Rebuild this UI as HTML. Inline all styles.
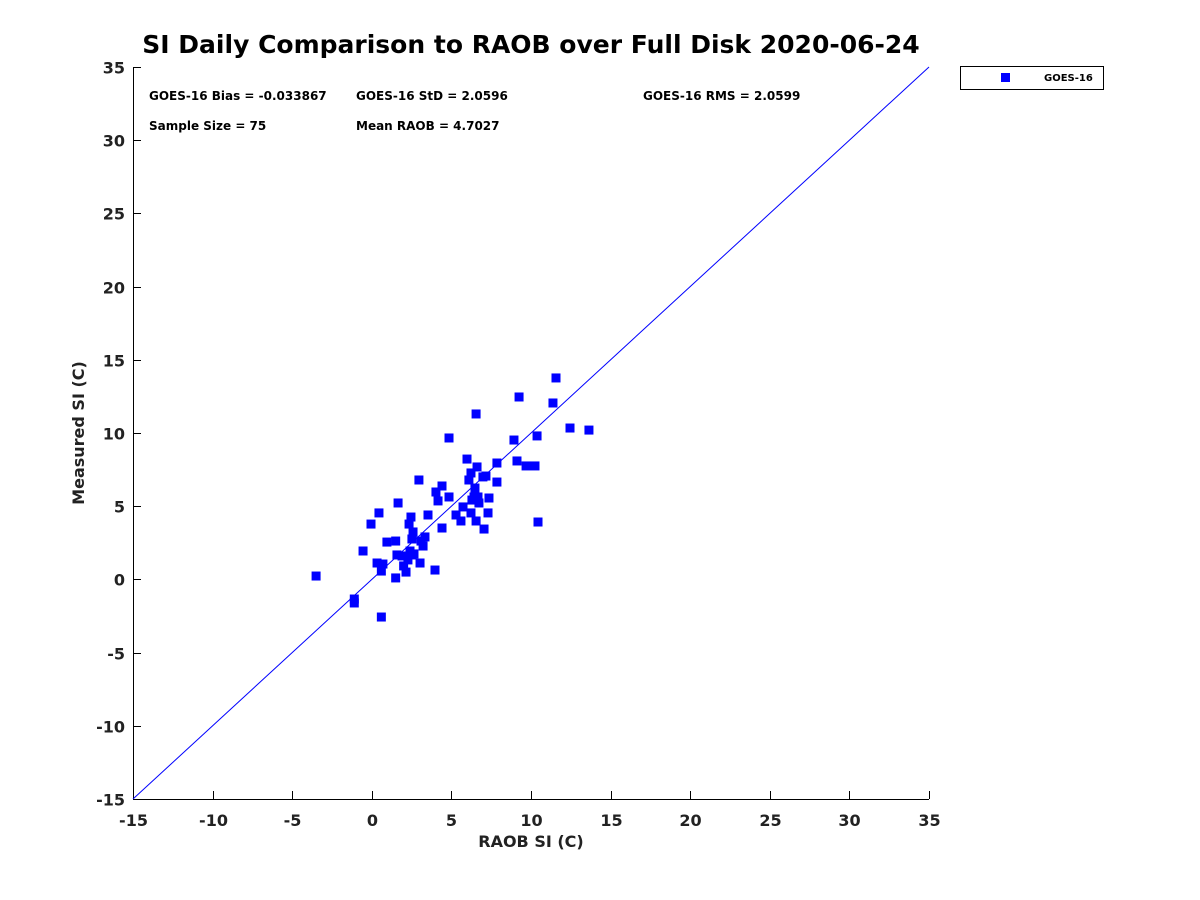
<!DOCTYPE html>
<html><head><meta charset="utf-8"><style>
body{margin:0;background:#fff}
svg{display:block;font-family:"DejaVu Sans","Liberation Sans",sans-serif}
</style></head><body>
<svg id="chart" width="1200" height="900">
<text x="531" y="53" text-anchor="middle" font-size="25" font-weight="bold" fill="#000">SI Daily Comparison to RAOB over Full Disk 2020-06-24</text>
<g id="axes"></g>
<g id="pts"></g>
<g font-size="12" font-weight="bold" fill="#000">
<text x="149" y="100">GOES-16 Bias = -0.033867</text>
<text x="356" y="100">GOES-16 StD = 2.0596</text>
<text x="643" y="100">GOES-16 RMS = 2.0599</text>
<text x="149" y="130">Sample Size = 75</text>
<text x="356" y="130">Mean RAOB = 4.7027</text>
</g>
<g>
<rect x="960.5" y="66.5" width="143" height="23" fill="#fff" stroke="#000"/>
<rect x="1001" y="73" width="9" height="9" fill="#0000ff"/>
<text x="1044" y="81" font-size="10" font-weight="bold">GOES-16</text>
</g>
</svg>
<script>
const xTicks=[-15,-10,-5,0,5,10,15,20,25,30,35];
const yTicks=[-15,-10,-5,0,5,10,15,20,25,30,35];
const raob=[-3.5,-1.1,-1.1,0.6,-0.55,-0.05,0.45,0.33,0.6,0.7,0.95,1.5,1.58,1.5,1.65,1.9,2.0,2.15,2.27,2.4,2.34,2.46,2.52,2.59,2.52,2.65,3.03,2.96,3.09,3.22,3.34,3.53,3.97,4.03,4.16,4.41,4.41,4.85,4.85,5.29,5.6,5.73,5.98,6.1,6.23,6.23,6.29,6.42,6.55,6.48,6.61,6.55,6.67,6.73,6.98,7.05,7.36,7.3,7.17,7.86,7.86,8.93,9.12,9.25,9.69,10.25,10.38,10.44,11.38,11.57,12.45,13.64];
const measured=[0.23,-1.34,-1.61,-2.57,1.94,3.78,4.54,1.12,0.57,1.05,2.55,2.62,1.67,0.1,5.22,1.6,0.92,0.5,1.33,1.94,3.78,4.26,2.76,3.24,1.67,1.74,1.12,6.79,2.62,2.28,2.9,4.4,0.64,5.97,5.36,6.38,3.51,5.63,9.66,4.4,3.99,4.95,8.22,6.79,7.27,4.54,5.42,5.63,11.3,6.24,7.68,3.99,5.63,5.22,7.0,3.44,5.56,4.54,7.06,7.95,6.65,9.52,8.09,12.46,7.75,7.75,9.8,3.92,12.05,13.76,10.34,10.2];
const X0=133,X1=929,Y0=799,Y1=67,MIN=-15,MAX=35;
const sx=v=>X0+(v-MIN)/(MAX-MIN)*(X1-X0);
const sy=v=>Y0-(v-MIN)/(MAX-MIN)*(Y0-Y1);
const NS="http://www.w3.org/2000/svg";
const ax=document.getElementById('axes'),pg=document.getElementById('pts');
function mk(tag,attrs,parent){const e=document.createElementNS(NS,tag);for(const k in attrs)e.setAttribute(k,attrs[k]);parent.appendChild(e);return e;}
let e;
e=mk('line',{x1:X0,y1:Y0+0.5,x2:X1,y2:Y0+0.5,stroke:'#000','stroke-width':1},ax);


e=mk('line',{x1:X0+0.5,y1:Y1,x2:X0+0.5,y2:Y0,stroke:'#000','stroke-width':1},ax);


xTicks.forEach(t=>{
  const x=Math.round(sx(t))+0.5;
  e=mk('line',{x1:x,y1:Y0,x2:x,y2:Y0-8,stroke:'#000'},ax);
  
  
  e=mk('text',{x:x,y:Y0+27,'text-anchor':'middle','font-size':16,'font-weight':'bold',fill:'#222'},ax);
  e.textContent=t;
  
  
});
yTicks.forEach(t=>{
  const y=Math.round(sy(t))+0.5;
  e=mk('line',{x1:X0,y1:y,x2:X0+8,y2:y,stroke:'#000'},ax);
  
  
  e=mk('text',{x:X0-8,y:y+6,'text-anchor':'end','font-size':16,'font-weight':'bold',fill:'#222'},ax);
  e.textContent=t;
  
  
});
e=mk('text',{x:531,y:847,'text-anchor':'middle','font-size':16,'font-weight':'bold',fill:'#222'},ax);
e.textContent='RAOB SI (C)';


e=mk('text',{x:0,y:0,'text-anchor':'middle','font-size':16,'font-weight':'bold',fill:'#222',transform:'translate(84,433) rotate(-90)'},ax);
e.textContent='Measured SI (C)';


e=mk('line',{x1:sx(MIN),y1:sy(MIN),x2:sx(MAX),y2:sy(MAX),stroke:'#0000ff','stroke-width':1},ax);


raob.forEach((v,i)=>{
  e=mk('rect',{x:sx(v)-4.5,y:sy(measured[i])-4.5,width:9,height:9,fill:'#0000ff'},pg);
  
  
});
</script>
</body></html>
